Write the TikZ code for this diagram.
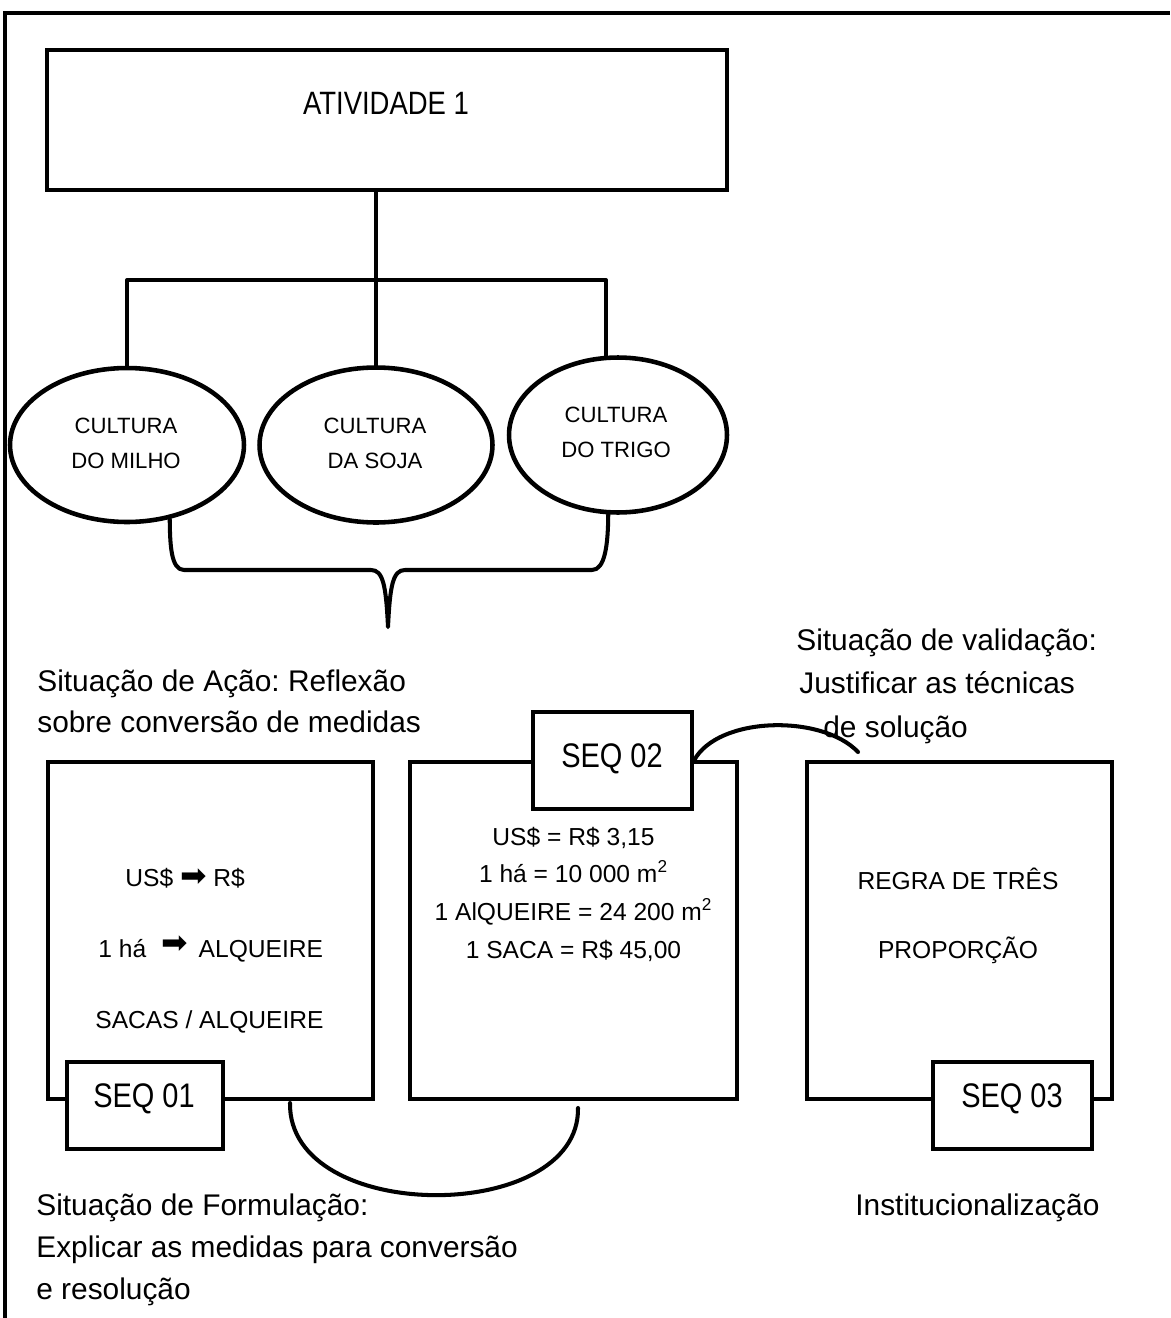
\documentclass[tikz,border=0pt]{standalone}
\usepackage{fontspec}
\setmainfont{Liberation Sans}
\newfontfamily\narrowfont[FakeStretch=0.85]{Liberation Sans}
\newfontfamily\arrowfont{DejaVu Sans}
\usetikzlibrary{shapes.geometric,calc}
\frenchspacing
\begin{document}
\begin{tikzpicture}[x=0.02cm,y=-0.02cm,
  frame/.style={line width=2pt},
  box/.style={draw, line width=2.3pt, rectangle, inner sep=0pt},
  tagbox/.style={box, fill=white},
  oval/.style={draw, line width=2.6pt, ellipse, inner sep=0pt},
  conn/.style={line width=2.3pt, line join=round, line cap=round},
  sidetxt/.style={font=\fontsize{17}{20}\selectfont, inner sep=0pt, anchor=base west},
  titletxt/.style={font=\narrowfont\fontsize{18.4}{21}\selectfont, inner sep=0pt, anchor=base},
  ovaltxt/.style={font=\fontsize{12.6}{15}\selectfont, inner sep=0pt, anchor=base},
  boxtxt/.style={font=\fontsize{14}{17}\selectfont, inner sep=0pt},
  seqtxt/.style={font=\narrowfont\fontsize{19.4}{22}\selectfont, inner sep=0pt, anchor=base},
  bigarrow/.style={font=\arrowfont\fontsize{19}{19}\selectfont}
]
\useasboundingbox (0,0) rectangle (1170,1318);

% page frame, open to the right and at the bottom
\coordinate (frBL) at (5,1318);
\coordinate (frTL) at (5,13);
\coordinate (frTR) at (1170,13);
\draw[frame] (frBL) -- (frTL) -- (frTR);

% top activity box
\node[box, minimum width=13.6cm, minimum height=2.8cm] (ativ) at (387,120) {};
\node[titletxt] (ativtxt) at (386,114) {ATIVIDADE 1};

% the three crops
\node[oval, minimum width=4.68cm, minimum height=3.08cm] (ellL) at (127,445) {};
\node[oval, minimum width=4.66cm, minimum height=3.1cm] (ellM) at (376,445) {};
\node[oval, minimum width=4.36cm, minimum height=3.1cm] (ellR) at (618,435) {};
\node[ovaltxt] (cL1) at (126,433) {CULTURA};
\node[ovaltxt] (cL2) at (126,468) {DO MILHO};
\node[ovaltxt] (cM1) at (375,433) {CULTURA};
\node[ovaltxt] (cM2) at (375,468) {DA SOJA};
\node[ovaltxt] (cR1) at (616,422) {CULTURA};
\node[ovaltxt] (cR2) at (616,457) {DO TRIGO};

% tree from the activity to the crops
\coordinate (barL) at (127,280);
\coordinate (barR) at (606,280);
\draw[conn] (ativ.south -| ellM.north) -- (ellM.north);
\draw[conn] (ellL.north) -- (barL) -- (barR) -- (ellR.north -| barR);

% brace gathering the crops
\coordinate (brL) at (ellL.-60);
\coordinate (brR) at (ellR.-97);
\coordinate (brTip) at (388,627);
\draw[conn] (brL) .. controls (170,545) and (171,570) .. (184,570) -- (371,570)
  .. controls (383,570) and (386,585) .. (brTip)
  .. controls (390,585) and (393,570) .. (405,570) -- (592,570)
  .. controls (605,570) and (608,545) .. (brR);

% situation labels
\node[sidetxt] (act1) at (37,691) {Situação de Ação: Reflexão};
\node[sidetxt] (act2) at (37,732) {sobre conversão de medidas};
\node[sidetxt] (val1) at (796,650) {Situação de validação:};
\node[sidetxt] (val2) at (799,693) {Justificar as técnicas};
\node[sidetxt] (val3) at (823,737) {de solução};
\node[sidetxt] (form1) at (36,1215) {Situação de Formulação:};
\node[sidetxt] (form2) at (36,1257) {Explicar as medidas para conversão};
\node[sidetxt] (form3) at (36,1299) {e resolução};
\node[sidetxt] (inst) at (855,1215) {Institucionalização};

% sequence boxes
\node[box, minimum width=6.5cm, minimum height=6.74cm] (b1) at (210.5,930.5) {};
\node[box, minimum width=6.54cm, minimum height=6.74cm] (b2) at (573.5,930.5) {};
\node[box, minimum width=6.1cm, minimum height=6.74cm] (b3) at (959.5,930.5) {};

% contents of sequence 1
\node[boxtxt, anchor=base west] (s1a) at (125,886) {US\$ {\arrowfont\fontsize{18}{18}\selectfont ➡} R\$};
\node[boxtxt, anchor=base west] (s1b) at (98,957) {1 há\hspace{0.3cm}\raisebox{2pt}{\arrowfont\fontsize{18}{18}\selectfont ➡}\hspace{0.22cm}ALQUEIRE};
\node[boxtxt, anchor=base west] (s1c) at (95,1028) {SACAS / ALQUEIRE};

% contents of sequence 2
\node[boxtxt, anchor=base] (s2a) at (573.5,845) {US\$ = R\$ 3,15};
\node[boxtxt, anchor=base] (s2b) at (573.5,882) {1 há = 10 000 m\textsuperscript{2}};
\node[boxtxt, anchor=base] (s2c) at (573.5,920) {1 AlQUEIRE = 24 200 m\textsuperscript{2}};
\node[boxtxt, anchor=base] (s2d) at (573.5,958) {1 SACA = R\$ 45,00};

% contents of sequence 3
\node[boxtxt, anchor=base] (s3a) at (958,889) {REGRA DE TRÊS};
\node[boxtxt, anchor=base] (s3b) at (958,958) {PROPORÇÃO};

% sequence tags
\node[tagbox, minimum width=3.12cm, minimum height=1.74cm] (seq1) at (145,1105.5) {};
\node[tagbox, minimum width=3.18cm, minimum height=1.94cm] (seq2) at (612.5,760.5) {};
\node[tagbox, minimum width=3.18cm, minimum height=1.74cm] (seq3) at (1012.5,1105.5) {};
\node[seqtxt] (seq1txt) at (144,1107) {SEQ 01};
\node[seqtxt] (seq2txt) at (612,767) {SEQ 02};
\node[seqtxt] (seq3txt) at (1012,1107) {SEQ 03};

% arcs linking the sequences
\coordinate (lowA) at (290,1103);
\coordinate (lowB) at (578,1108);
\draw[conn] (lowA) .. controls (288,1225) and (580,1225) .. (lowB);
\coordinate (upEnd) at (858,752);
\draw[conn] (seq2.east) .. controls (718,716) and (822,714) .. (upEnd);
\end{tikzpicture}
\end{document}
